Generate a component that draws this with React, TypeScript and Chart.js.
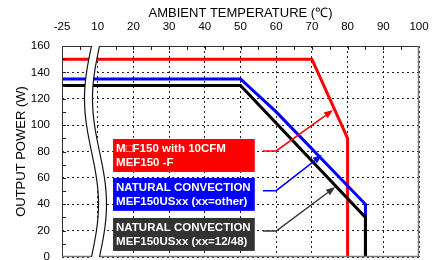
import React, { useEffect, useRef } from 'react';
import { Chart, registerables } from 'chart.js';

Chart.register(...registerables);

// ---- data ----
const xTickValues = [0, 10, 20, 30, 40, 50, 60, 70, 80, 90, 100];
const xTickLabels = ['-25', '10', '20', '30', '40', '50', '60', '70', '80', '90', '100'];
const yTickValues = [0, 20, 40, 60, 80, 100, 120, 140, 160];

const redTemp = [-25, 70, 80, 80];
const redPower = [150, 150, 90, 0];
const blueTemp = [-25, 50, 60, 85, 85];
const bluePower = [135, 135, 110, 40, 0];
const blackTemp = [-25, 50, 85, 85];
const blackPower = [130, 130, 30, 0];

const seriesColors = ['#ff0000', '#0000ff', '#000000'];

const labelLines = [
  ['M\u25A1F150 with 10CFM', 'MEF150 -F'],
  ['NATURAL CONVECTION', 'MEF150USxx (xx=other)'],
  ['NATURAL CONVECTION', 'MEF150USxx (xx=12/48)'],
];
const labelColors = ['#ff0000', '#0000ff', '#333333'];
const boxLeftTemp = 14.3;
const boxRightTemp = 54;
const boxTopPower = [89.5, 60, 29.6];
const boxBottomPower = [64.5, 35, 4.6];
const arrowStartTemp = 56.3;
const arrowBendTemp = 60;
const arrowPower = [80.4, 50.3, 19.7];
const arrowTipTemp = [75.9, 72.8, 76.5];
const arrowTipPower = [111.4, 77.3, 53];
const arrowColors = ['#ff0000', '#0000ff', '#333333'];

// broken axis: -25..10 °C is compressed into 0..10 axis units
const BREAK_POS = 8.26;
const axisPos = (t: number) => (t < 10 ? ((t + 25) * 10) / 35 : t);
const toPoints = (ts: number[], ps: number[]) => ts.map((t, i) => ({ x: axisPos(t), y: ps[i] }));

const decorPlugin = {
  id: 'decor',
  afterDatasetsDraw(chart: any) {
    const { ctx, chartArea: ca, scales } = chart;
    const xs = scales.x;
    const ys = scales.y;
    ctx.save();

    // minor ticks
    ctx.strokeStyle = '#222';
    ctx.lineWidth = 1;
    ctx.setLineDash([]);
    for (let v = 5; v < 100; v += 5) {
      const px = Math.round(xs.getPixelForValue(v)) + 0.5;
      ctx.beginPath();
      ctx.moveTo(px, ca.top);
      ctx.lineTo(px, ca.top + 4);
      ctx.stroke();
    }
    for (let v = 10; v < 160; v += 10) {
      const py = Math.round(ys.getPixelForValue(v)) + 0.5;
      ctx.beginPath();
      ctx.moveTo(ca.left, py);
      ctx.lineTo(ca.left + 4, py);
      ctx.stroke();
    }

    // border
    ctx.strokeStyle = '#333';
    ctx.lineWidth = 1;
    ctx.beginPath();
    ctx.moveTo(Math.round(ca.left) + 0.5, ca.bottom);
    ctx.lineTo(Math.round(ca.left) + 0.5, Math.round(ca.top) + 0.5);
    ctx.lineTo(ca.right, Math.round(ca.top) + 0.5);
    ctx.stroke();
    ctx.strokeStyle = '#777';
    ctx.lineWidth = 1.5;
    ctx.beginPath();
    ctx.moveTo(ca.right - 0.5, ca.top);
    ctx.lineTo(ca.right - 0.5, ca.bottom - 0.5);
    ctx.lineTo(ca.left, ca.bottom - 0.5);
    ctx.stroke();

    // axis break
    const x0 = xs.getPixelForValue(BREAK_POS);
    const gap = 8;
    const amp = 7;
    const H = ca.bottom - ca.top;
    const cx = (y: number) => x0 - amp * Math.sin((2 * Math.PI * (y - ca.top)) / H);
    const y1 = ca.top - 2;
    const y2 = ca.bottom + 2;
    ctx.fillStyle = '#ffffff';
    ctx.beginPath();
    for (let y = y1; y <= y2; y += 1) ctx.lineTo(cx(y), y);
    for (let y = y2; y >= y1; y -= 1) ctx.lineTo(cx(y) + gap, y);
    ctx.closePath();
    ctx.fill();
    ctx.strokeStyle = '#111';
    ctx.lineWidth = 1.2;
    for (const off of [0, gap]) {
      ctx.beginPath();
      for (let y = ca.top; y <= ca.bottom; y += 1) ctx.lineTo(cx(y) + off, y);
      ctx.stroke();
    }

    // label boxes
    const bl = xs.getPixelForValue(axisPos(boxLeftTemp));
    const br = xs.getPixelForValue(axisPos(boxRightTemp));
    ctx.font = "bold 11.5px 'Liberation Sans', 'DejaVu Sans', Arial, sans-serif";
    ctx.textBaseline = 'middle';
    ctx.textAlign = 'left';
    for (let i = 0; i < labelLines.length; i++) {
      const bt = ys.getPixelForValue(boxTopPower[i]);
      const bb = ys.getPixelForValue(boxBottomPower[i]);
      ctx.fillStyle = labelColors[i];
      ctx.fillRect(bl, bt, br - bl, bb - bt);
      ctx.fillStyle = '#ffffff';
      ctx.fillText(labelLines[i][0], bl + 3, bt + 10);
      ctx.fillText(labelLines[i][1], bl + 3, bt + 24);
    }

    // arrows
    for (let i = 0; i < arrowPower.length; i++) {
      const sx = xs.getPixelForValue(axisPos(arrowStartTemp));
      const bx = xs.getPixelForValue(axisPos(arrowBendTemp));
      const ay = ys.getPixelForValue(arrowPower[i]);
      const tx = xs.getPixelForValue(axisPos(arrowTipTemp[i]));
      const ty = ys.getPixelForValue(arrowTipPower[i]);
      ctx.strokeStyle = arrowColors[i];
      ctx.fillStyle = arrowColors[i];
      ctx.lineWidth = 1.5;
      const ang = Math.atan2(ty - ay, tx - bx);
      const hl = 9;
      const hw = 3.5;
      const ex = tx - hl * Math.cos(ang);
      const ey = ty - hl * Math.sin(ang);
      ctx.beginPath();
      ctx.moveTo(sx, ay);
      ctx.lineTo(bx, ay);
      ctx.lineTo(ex, ey);
      ctx.stroke();
      ctx.beginPath();
      ctx.moveTo(tx, ty);
      ctx.lineTo(ex + hw * Math.sin(ang), ey - hw * Math.cos(ang));
      ctx.lineTo(ex - hw * Math.sin(ang), ey + hw * Math.cos(ang));
      ctx.closePath();
      ctx.fill();
    }

    ctx.restore();
  },
};

export default function App() {
  const canvasRef = useRef<HTMLCanvasElement | null>(null);

  useEffect(() => {
    const canvas = canvasRef.current;
    if (!canvas) return;
    const mkDs = (ts: number[], ps: number[], color: string) => ({
      data: toPoints(ts, ps),
      borderColor: color,
      backgroundColor: color,
      borderWidth: 3,
      pointRadius: 0,
      tension: 0,
      fill: false,
      borderJoinStyle: 'miter' as const,
    });
    const chart = new Chart(canvas, {
      type: 'line',
      data: {
        datasets: [
          mkDs(blackTemp, blackPower, seriesColors[2]),
          mkDs(blueTemp, bluePower, seriesColors[1]),
          mkDs(redTemp, redPower, seriesColors[0]),
        ],
      },
      options: {
        animation: false,
        responsive: false,
        devicePixelRatio: 1,
        layout: { padding: { left: 0, top: 0, right: 14, bottom: 3 }, autoPadding: false },
        plugins: { legend: { display: false }, tooltip: { enabled: false } },
        scales: {
          x: {
            type: 'linear',
            position: 'top',
            min: 0,
            max: 100,
            afterBuildTicks: (scale: any) => {
              scale.ticks = xTickValues.map((v) => ({ value: v }));
            },
            afterFit: (scale: any) => {
              scale.height = 46;
              scale.paddingLeft = 0;
              scale.paddingRight = 0;
              scale.paddingTop = 0;
              scale.paddingBottom = 0;
            },
            ticks: {
              color: '#000',
              padding: 12,
              maxRotation: 0,
              autoSkip: false,
              font: { family: "'Liberation Sans', Arial, sans-serif", size: 11.5 },
              callback: (v: any) => {
                const i = xTickValues.indexOf(Number(v));
                return i >= 0 ? xTickLabels[i] : '';
              },
            },
            grid: { color: '#222', lineWidth: 1, drawTicks: false },
            border: { display: false, dash: [2, 3] },
            title: {
              display: true,
              text: 'AMBIENT TEMPERATURE (\u2103)',
              color: '#000',
              padding: { top: 6, bottom: 0 },
              font: { family: "'Liberation Sans', Arial, sans-serif", size: 13 },
            },
          },
          y: {
            type: 'linear',
            min: 0,
            max: 160,
            afterBuildTicks: (scale: any) => {
              scale.ticks = yTickValues.map((v) => ({ value: v }));
            },
            afterFit: (scale: any) => {
              scale.width = 62;
              scale.paddingLeft = 0;
              scale.paddingRight = 0;
              scale.paddingTop = 0;
              scale.paddingBottom = 0;
            },
            ticks: {
              color: '#000',
              padding: 12,
              autoSkip: false,
              font: { family: "'Liberation Sans', Arial, sans-serif", size: 11.5 },
            },
            grid: { color: '#222', lineWidth: 1, drawTicks: false },
            border: { display: false, dash: [2, 3] },
            title: {
              display: true,
              text: 'OUTPUT POWER (W)',
              color: '#000',
              padding: { top: 14, bottom: 0 },
              font: { family: "'Liberation Sans', Arial, sans-serif", size: 13 },
            },
          },
        },
      },
      plugins: [decorPlugin],
    });
    return () => chart.destroy();
  }, []);

  return (
    <div style={{ position: 'absolute', left: 0, top: 0, width: 433, height: 260, background: '#fff' }}>
      <canvas ref={canvasRef} width={433} height={260} style={{ display: 'block' }} />
    </div>
  );
}
